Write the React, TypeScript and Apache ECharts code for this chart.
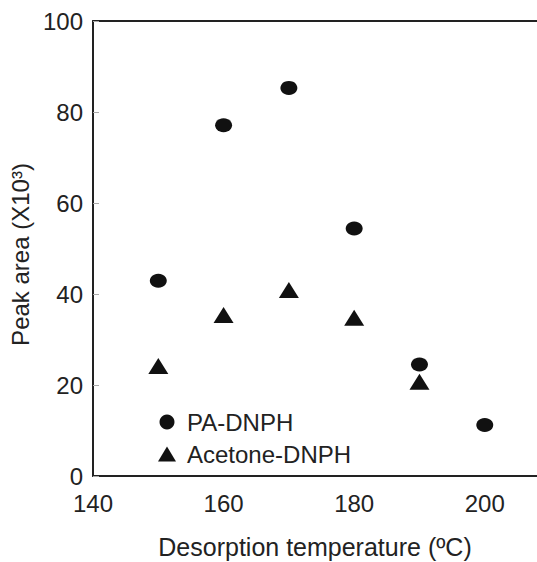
import React, { useEffect, useRef } from "react";
import * as echarts from "echarts";

const temps = [150, 160, 170, 180, 190, 200];
const paDnph = [42.9, 77.1, 85.3, 54.4, 24.5, 11.2];
const acetoneTemps = [150, 160, 170, 180, 190];
const acetoneDnph = [24.2, 35.4, 40.9, 34.8, 20.7];
const xTicks = [140, 160, 180, 200];
const xTitle = "Desorption temperature (ºC)";
const yTitle = "Peak area (X10³)";
const seriesNames = ["PA-DNPH", "Acetone-DNPH"];

const FONT = "'Liberation Sans', Arial, sans-serif";

export default function App() {
  const ref = useRef<HTMLDivElement>(null);
  useEffect(() => {
    if (!ref.current) return;
    const chart = echarts.init(ref.current, null, { renderer: "svg" });
    chart.setOption({
      animation: false,
      backgroundColor: "#ffffff",
      textStyle: { fontFamily: FONT },
      grid: {
        left: 93,
        right: 0,
        top: 21,
        bottom: 86,
        show: false,
        containLabel: false,
        outerBoundsMode: "none",
      },
      legend: {
        orient: "vertical",
        left: 153,
        top: 405,
        itemWidth: 18,
        itemHeight: 15,
        itemGap: 8,
        textStyle: { fontSize: 24, color: "#222", fontFamily: FONT, padding: [0, 0, 0, 6] },
        data: [
          { name: seriesNames[0], icon: "circle", itemStyle: { color: "#111", opacity: 1 } },
          { name: seriesNames[1], icon: "triangle", itemStyle: { color: "#111", opacity: 1 } },
        ],
      },
      xAxis: [
        {
          type: "value",
          min: xTicks[0],
          max: 208,
          interval: 20,
          name: xTitle,
          nameLocation: "middle",
          nameGap: 58,
          nameTextStyle: { fontSize: 25, color: "#222", fontFamily: FONT, lineHeight: 25 },
          axisLine: { show: true, lineStyle: { color: "#222", width: 2 } },
          axisTick: { show: false },
          splitLine: { show: false },
          axisLabel: {
            fontSize: 24,
            color: "#222",
            margin: 15,
            fontFamily: FONT,
            showMaxLabel: false,
            formatter: (v: number) => (xTicks.includes(v) ? String(v) : ""),
          },
        },
        {
          type: "value",
          position: "top",
          min: xTicks[0],
          max: 208,
          interval: 20,
          axisLine: { show: true, onZero: false, lineStyle: { color: "#222", width: 2 } },
          axisTick: { show: false },
          axisLabel: { show: false },
          splitLine: { show: false },
        },
      ],
      yAxis: {
        type: "value",
        min: 0,
        max: 100,
        interval: 20,
        name: yTitle,
        nameLocation: "middle",
        nameGap: 44,
        nameTextStyle: { fontSize: 24, color: "#222", fontFamily: FONT, padding: [0, 12, 0, 0] },
        axisLine: { show: true, lineStyle: { color: "#222", width: 2 } },
        axisTick: { show: true, inside: true, length: 6, lineStyle: { color: "#aaa", width: 1 } },
        splitLine: { show: false },
        axisLabel: { fontSize: 24, color: "#222", margin: 10, fontFamily: FONT },
      },
      series: [
        {
          name: seriesNames[0],
          type: "scatter",
          symbol: "circle",
          symbolSize: [17, 14],
          itemStyle: { color: "#111", opacity: 1 },
          data: temps.map((t, i) => [t, paDnph[i]]),
        },
        {
          name: seriesNames[1],
          type: "scatter",
          symbol: "triangle",
          symbolSize: [20, 16],
          itemStyle: { color: "#111", opacity: 1 },
          data: acetoneTemps.map((t, i) => [t, acetoneDnph[i]]),
        },
      ],
    });
    return () => chart.dispose();
  }, []);
  return (
    <div
      ref={ref}
      style={{ position: "fixed", left: 0, top: 0, width: 537, height: 562, background: "#fff" }}
    />
  );
}
